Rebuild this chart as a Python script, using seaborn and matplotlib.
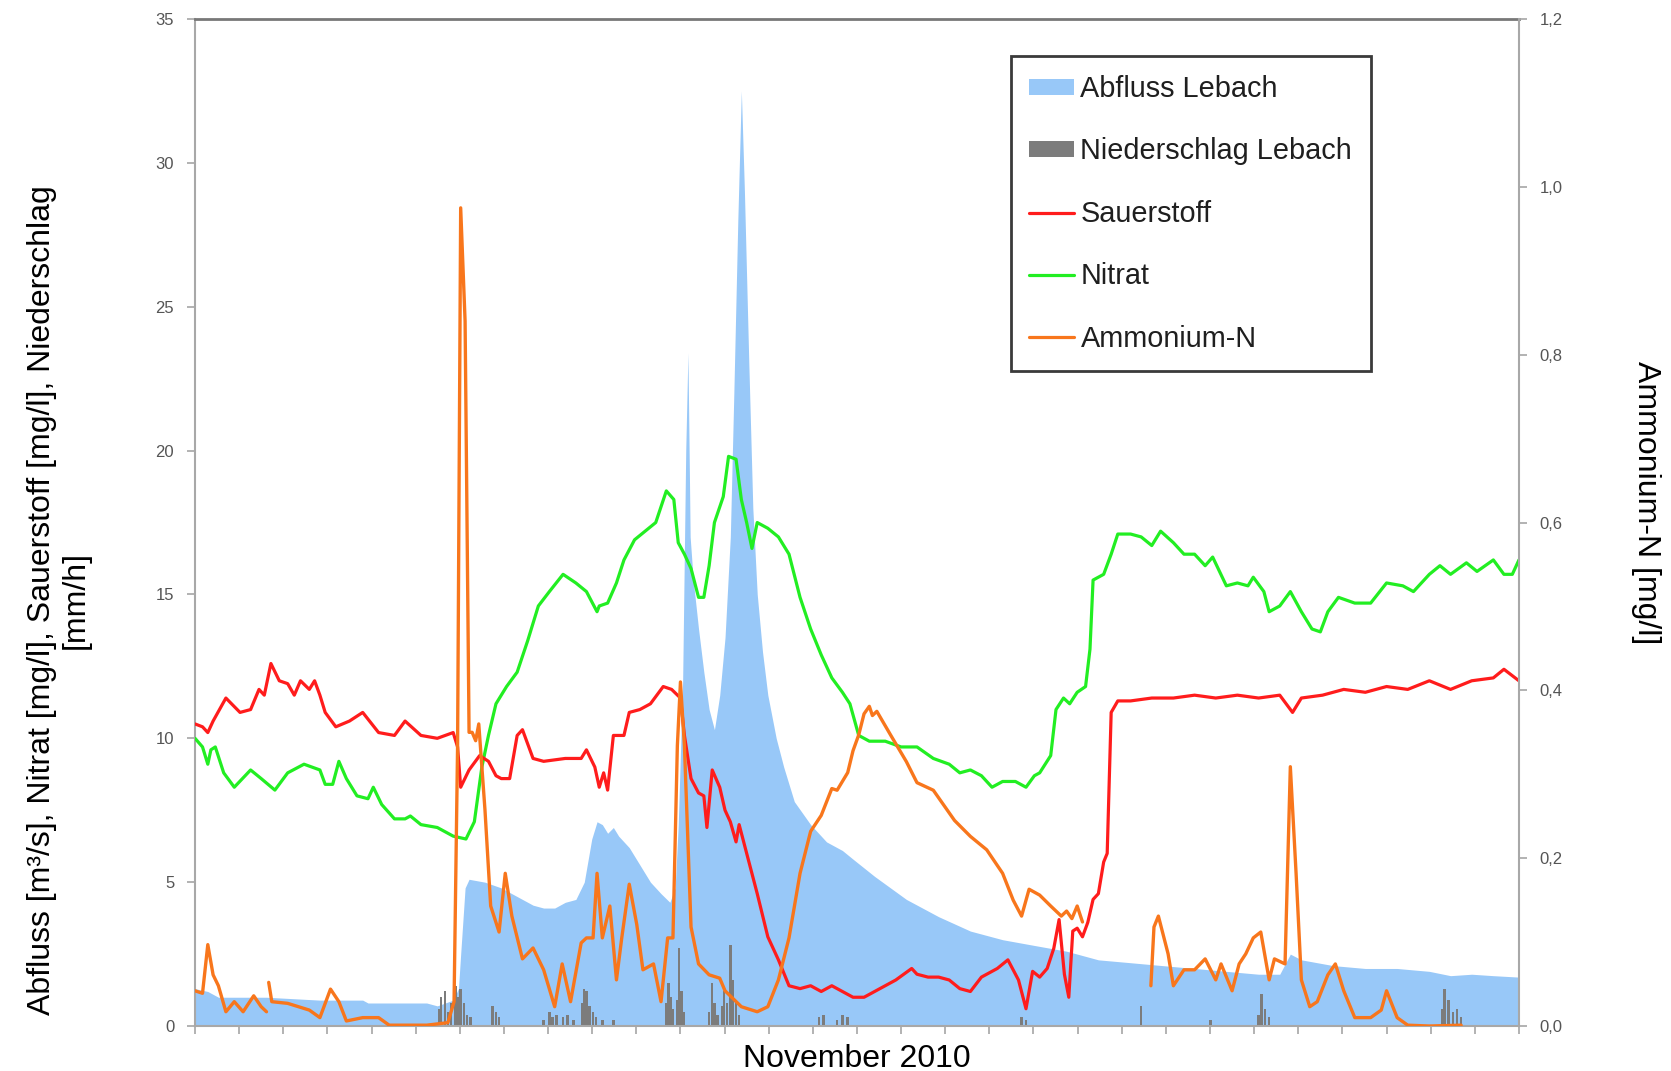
import numpy as np
import pandas as pd
import matplotlib
matplotlib.use("Agg")
import matplotlib.pyplot as plt
from matplotlib.patches import Patch
from matplotlib.lines import Line2D
from matplotlib.ticker import FuncFormatter, MultipleLocator
import seaborn as sns

# ---------------------------------------------------------------------------
# Messreihen November 2010 (Zeit in Tagen ab 1. November, 0 ... 30)
# ---------------------------------------------------------------------------

# Abfluss Lebach [m3/s]
abfluss_tag = [0.00, 0.29, 0.53, 1.62, 2.83, 3.80, 3.92, 5.25, 5.49, 5.85, 5.97, 6.02,
               6.12, 6.21, 6.57, 6.94, 7.18, 7.42, 7.66, 7.90, 8.15, 8.39, 8.63, 8.82,
               8.99, 9.11, 9.23, 9.35, 9.48, 9.60, 9.84, 10.08, 10.32, 10.56, 10.76, 10.88,
               10.95, 11.05, 11.12, 11.17, 11.22, 11.29, 11.41, 11.53, 11.65, 11.77, 11.89,
               12.01, 12.13, 12.21, 12.30, 12.38, 12.45, 12.55, 12.64, 12.74, 12.86, 12.98,
               13.17, 13.34, 13.58, 13.95, 14.31, 14.67, 14.91, 15.40, 16.12, 16.85, 17.57,
               18.30, 19.02, 19.75, 20.47, 21.20, 21.92, 22.65, 23.37, 24.10, 24.58, 24.82,
               25.07, 25.79, 26.52, 27.24, 27.97, 28.45, 28.93, 29.42, 30.00]
abfluss_m3s = [1.3, 1.2, 1.0, 1.0, 0.9, 0.9, 0.8, 0.8, 0.7, 0.9, 1.3, 2.5,
               4.8, 5.1, 5.0, 4.8, 4.6, 4.4, 4.2, 4.1, 4.1, 4.3, 4.4, 5.0,
               6.5, 7.1, 7.0, 6.7, 6.9, 6.6, 6.2, 5.6, 5.0, 4.6, 4.3, 4.8,
               7.0, 12.0, 20.0, 23.4, 17.0, 15.5, 13.8, 12.3, 11.0, 10.3, 11.5,
               13.5, 17.0, 22.0, 28.0, 32.5, 29.0, 23.0, 18.0, 15.0, 13.0, 11.5,
               10.0, 9.0, 7.8, 7.0, 6.4, 6.1, 5.8, 5.2, 4.4, 3.8, 3.3,
               3.0, 2.8, 2.6, 2.3, 2.2, 2.1, 2.0, 1.9, 1.8, 1.8, 2.5,
               2.3, 2.1, 2.0, 2.0, 1.9, 1.75, 1.8, 1.75, 1.7]

# Niederschlag Lebach [mm/h]
niederschlag_tag = [5.54, 5.58, 5.66, 5.73, 5.80, 5.90, 5.97, 6.02, 6.09, 6.16, 6.24,
                    6.74, 6.82, 6.89,
                    7.90, 8.03, 8.10, 8.19, 8.34, 8.44, 8.58,
                    8.77, 8.82, 8.87, 8.94, 9.02, 9.09, 9.23, 9.48,
                    10.68, 10.73, 10.78, 10.83, 10.93, 10.97, 11.02, 11.07,
                    11.65, 11.72, 11.77, 11.84, 11.94, 11.99, 12.06, 12.13, 12.18, 12.26, 12.33,
                    14.14, 14.24, 14.55, 14.67, 14.79,
                    18.73, 18.83,
                    21.44,
                    23.01, 24.10, 24.17, 24.24, 24.34,
                    28.26, 28.31, 28.40, 28.50, 28.60, 28.69]
niederschlag_mmh = [0.6, 1.0, 1.2, 0.5, 0.8, 1.4, 1.0, 1.3, 0.8, 0.4, 0.3,
                    0.7, 0.5, 0.3,
                    0.2, 0.5, 0.3, 0.4, 0.3, 0.4, 0.2,
                    0.8, 1.3, 1.2, 0.7, 0.5, 0.3, 0.2, 0.2,
                    0.8, 1.5, 1.0, 0.6, 0.9, 2.7, 1.2, 0.5,
                    0.5, 1.5, 0.8, 0.4, 0.7, 1.2, 0.8, 2.8, 1.6, 0.8, 0.4,
                    0.3, 0.4, 0.2, 0.4, 0.3,
                    0.3, 0.2,
                    0.7,
                    0.2, 0.4, 1.1, 0.6, 0.3,
                    0.6, 1.3, 0.9, 0.5, 0.6, 0.3]

# Sauerstoff [mg/l]
sauerstoff_tag = [0.00, 0.17, 0.29, 0.41, 0.70, 1.02, 1.26, 1.45, 1.57, 1.72, 1.91, 2.10,
                  2.25, 2.39, 2.59, 2.71, 2.83, 2.95, 3.19, 3.50, 3.80, 4.16, 4.52, 4.76,
                  5.12, 5.49, 5.85, 5.95, 6.02, 6.21, 6.45, 6.65, 6.82, 6.94, 7.13, 7.30,
                  7.42, 7.66, 7.90, 8.39, 8.75, 8.87, 9.06, 9.16, 9.26, 9.35, 9.48, 9.72,
                  9.84, 10.08, 10.32, 10.61, 10.80, 11.00, 11.09, 11.24, 11.41, 11.53, 11.60,
                  11.72, 11.89, 12.01, 12.13, 12.26, 12.33, 12.50, 12.74, 12.98, 13.22, 13.46,
                  13.71, 13.95, 14.19, 14.43, 14.67, 14.91, 15.16, 15.40, 15.64, 15.88, 16.24,
                  16.36, 16.61, 16.85, 17.09, 17.33, 17.57, 17.82, 18.18, 18.42, 18.66, 18.83,
                  18.98, 19.14, 19.31, 19.46, 19.58, 19.70, 19.80, 19.89, 19.99, 20.11, 20.23,
                  20.35, 20.47, 20.59, 20.67, 20.76, 20.91, 21.20, 21.68, 22.17, 22.65, 23.13,
                  23.62, 24.10, 24.58, 24.87, 25.07, 25.55, 26.03, 26.52, 27.00, 27.48, 27.97,
                  28.45, 28.93, 29.42, 29.66, 30.00]
sauerstoff_mgl = [10.5, 10.4, 10.2, 10.6, 11.4, 10.9, 11.0, 11.7, 11.5, 12.6, 12.0, 11.9,
                  11.5, 12.0, 11.7, 12.0, 11.5, 10.9, 10.4, 10.6, 10.9, 10.2, 10.1, 10.6,
                  10.1, 10.0, 10.2, 9.7, 8.3, 8.9, 9.4, 9.2, 8.7, 8.6, 8.6, 10.1,
                  10.3, 9.3, 9.2, 9.3, 9.3, 9.6, 9.0, 8.3, 8.8, 8.2, 10.1, 10.1,
                  10.9, 11.0, 11.2, 11.8, 11.7, 11.4, 10.1, 8.6, 8.1, 8.0, 6.9,
                  8.9, 8.3, 7.5, 7.1, 6.4, 7.0, 6.0, 4.6, 3.1, 2.3, 1.4,
                  1.3, 1.4, 1.2, 1.4, 1.2, 1.0, 1.0, 1.2, 1.4, 1.6, 2.0,
                  1.8, 1.7, 1.7, 1.6, 1.3, 1.2, 1.7, 2.0, 2.3, 1.6, 0.6,
                  1.9, 1.7, 2.0, 2.7, 3.7, 1.8, 1.0, 3.3, 3.4, 3.1, 3.6,
                  4.4, 4.6, 5.7, 6.0, 10.9, 11.3, 11.3, 11.4, 11.4, 11.5, 11.4,
                  11.5, 11.4, 11.5, 10.9, 11.4, 11.5, 11.7, 11.6, 11.8, 11.7, 12.0,
                  11.7, 12.0, 12.1, 12.4, 12.0]

# Nitrat [mg/l]
nitrat_tag = [0.00, 0.17, 0.29, 0.36, 0.46, 0.65, 0.89, 1.26, 1.50, 1.81, 2.10, 2.47,
              2.83, 2.95, 3.12, 3.26, 3.43, 3.67, 3.92, 4.04, 4.23, 4.52, 4.76, 4.88,
              5.12, 5.49, 5.85, 6.14, 6.33, 6.50, 6.65, 6.82, 7.06, 7.30, 7.54, 7.78,
              8.03, 8.34, 8.63, 8.87, 9.11, 9.16, 9.35, 9.55, 9.72, 9.96, 10.20, 10.44,
              10.68, 10.85, 10.95, 11.09, 11.24, 11.41, 11.53, 11.65, 11.77, 11.97, 12.09,
              12.26, 12.38, 12.50, 12.62, 12.74, 12.98, 13.22, 13.46, 13.71, 13.95, 14.19,
              14.43, 14.67, 14.84, 15.04, 15.28, 15.64, 16.00, 16.36, 16.73, 17.09, 17.33,
              17.57, 17.82, 18.06, 18.30, 18.59, 18.83, 19.02, 19.14, 19.39, 19.51, 19.68,
              19.82, 19.99, 20.18, 20.28, 20.35, 20.59, 20.76, 20.91, 21.20, 21.44, 21.68,
              21.88, 22.17, 22.41, 22.65, 22.89, 23.06, 23.37, 23.62, 23.86, 23.98, 24.22,
              24.34, 24.58, 24.82, 25.07, 25.31, 25.50, 25.67, 25.91, 26.28, 26.64, 27.00,
              27.37, 27.61, 27.97, 28.21, 28.45, 28.81, 29.05, 29.42, 29.66, 29.85, 30.00]
nitrat_mgl = [10.0, 9.7, 9.1, 9.6, 9.7, 8.8, 8.3, 8.9, 8.6, 8.2, 8.8, 9.1,
              8.9, 8.4, 8.4, 9.2, 8.6, 8.0, 7.9, 8.3, 7.7, 7.2, 7.2, 7.3,
              7.0, 6.9, 6.6, 6.5, 7.1, 9.0, 10.1, 11.2, 11.8, 12.3, 13.4, 14.6,
              15.1, 15.7, 15.4, 15.1, 14.4, 14.6, 14.7, 15.4, 16.2, 16.9, 17.2, 17.5,
              18.6, 18.3, 16.8, 16.4, 15.9, 14.9, 14.9, 16.0, 17.5, 18.4, 19.8,
              19.7, 18.3, 17.5, 16.6, 17.5, 17.3, 17.0, 16.4, 14.9, 13.8, 12.9,
              12.1, 11.6, 11.2, 10.1, 9.9, 9.9, 9.7, 9.7, 9.3, 9.1, 8.8,
              8.9, 8.7, 8.3, 8.5, 8.5, 8.3, 8.7, 8.8, 9.4, 11.0, 11.4,
              11.2, 11.6, 11.8, 13.1, 15.5, 15.7, 16.4, 17.1, 17.1, 17.0, 16.7,
              17.2, 16.8, 16.4, 16.4, 16.0, 16.3, 15.3, 15.4, 15.3, 15.6, 15.1,
              14.4, 14.6, 15.1, 14.4, 13.8, 13.7, 14.4, 14.9, 14.7, 14.7, 15.4,
              15.3, 15.1, 15.7, 16.0, 15.7, 16.1, 15.8, 16.2, 15.7, 15.7, 16.2]

# Ammonium-N [mg/l] (rechte Achse), drei zusammenhaengende Messabschnitte
ammonium_tag = [0.00, 0.17, 0.29, 0.41, 0.53, 0.70, 0.89, 1.09, 1.33, 1.50, 1.62,
                1.67, 1.74, 2.10, 2.59, 2.83, 3.07, 3.26, 3.43, 3.80, 4.16, 4.40, 5.25,
                5.73, 5.87, 5.95, 6.02, 6.12, 6.21, 6.28, 6.36, 6.43, 6.57, 6.70, 6.89,
                7.03, 7.18, 7.42, 7.66, 7.90, 8.15, 8.32, 8.51, 8.75, 8.87, 9.02, 9.11,
                9.23, 9.40, 9.55, 9.67, 9.84, 10.01, 10.15, 10.39, 10.56, 10.71, 10.83,
                10.93, 11.00, 11.09, 11.24, 11.41, 11.65, 11.89, 12.01, 12.38, 12.74, 12.98,
                13.22, 13.46, 13.71, 13.95, 14.19, 14.43, 14.55, 14.79, 14.91, 15.04, 15.16,
                15.28, 15.35, 15.45, 15.76, 16.12, 16.36, 16.73, 17.21, 17.57, 17.94, 18.30,
                18.54, 18.73, 18.90, 19.14, 19.39, 19.63, 19.75, 19.87, 19.99, 20.11,
                21.66, 21.73, 21.83, 22.05, 22.17, 22.41, 22.65, 22.89, 23.13, 23.25, 23.50,
                23.66, 23.81, 23.98, 24.15, 24.34, 24.46, 24.70, 24.82, 24.95, 25.07, 25.26,
                25.43, 25.67, 25.84, 26.03, 26.28, 26.64, 26.88, 27.00, 27.24, 27.48, 27.97,
                28.69]
ammonium_mgl = [0.042, 0.039, 0.097, 0.061, 0.048, 0.017, 0.029, 0.017, 0.036, 0.023, 0.017,
                0.052, 0.029, 0.027, 0.019, 0.010, 0.044, 0.029, 0.006, 0.010, 0.010, 0.001, 0.001,
                0.004, 0.029, 0.334, 0.975, 0.840, 0.350, 0.350, 0.340, 0.360, 0.258, 0.143, 0.112,
                0.182, 0.131, 0.080, 0.093, 0.067, 0.023, 0.074, 0.029, 0.099, 0.105, 0.105, 0.182,
                0.105, 0.143, 0.055, 0.105, 0.169, 0.121, 0.067, 0.074, 0.029, 0.105, 0.105,
                0.334, 0.410, 0.334, 0.118, 0.074, 0.061, 0.057, 0.042, 0.023, 0.017, 0.023,
                0.055, 0.105, 0.182, 0.232, 0.251, 0.283, 0.281, 0.302, 0.328, 0.347, 0.372,
                0.381, 0.370, 0.375, 0.347, 0.315, 0.290, 0.281, 0.245, 0.226, 0.210, 0.182,
                0.150, 0.131, 0.163, 0.156, 0.143, 0.131, 0.137, 0.128, 0.143, 0.124,
                0.048, 0.118, 0.131, 0.086, 0.048, 0.067, 0.067, 0.080, 0.055, 0.074, 0.042,
                0.074, 0.086, 0.105, 0.112, 0.055, 0.080, 0.074, 0.309, 0.182, 0.055, 0.023,
                0.029, 0.061, 0.074, 0.042, 0.010, 0.010, 0.019, 0.042, 0.010, 0.001, 0.000,
                0.001]
ammonium_abschnitt = [1] * 11 + [2] * 90 + [3] * 34

legend_labels = ["Abfluss Lebach", "Niederschlag Lebach", "Sauerstoff", "Nitrat", "Ammonium-N"]

# ---------------------------------------------------------------------------
farbe_abfluss = "#98c8f8"
farbe_regen = "#7c7c7c"
farbe_o2 = "#ff1c1c"
farbe_no3 = "#22ee22"
farbe_nh4 = "#f8761c"

sns.set_theme(style="white")
plt.rcParams["font.family"] = ["Liberation Sans", "DejaVu Sans"]

fig = plt.figure(figsize=(16.71, 10.71), dpi=100)
ax = fig.add_axes([0.1167, 0.042, 0.7923, 0.9402])
ax2 = ax.twinx()

# Abfluss als Flaeche, Niederschlag als schmale Balken
ax.fill_between(abfluss_tag, 0, abfluss_m3s, color=farbe_abfluss, lw=0, zorder=1)
ax.bar(niederschlag_tag, niederschlag_mmh, width=0.055, color=farbe_regen, lw=0, zorder=2)

df_o2 = pd.DataFrame({"tag": sauerstoff_tag, "wert": sauerstoff_mgl})
df_no3 = pd.DataFrame({"tag": nitrat_tag, "wert": nitrat_mgl})
df_nh4 = pd.DataFrame({"tag": ammonium_tag, "wert": ammonium_mgl, "abschnitt": ammonium_abschnitt})

sns.lineplot(data=df_no3, x="tag", y="wert", ax=ax, color=farbe_no3, lw=2.3, zorder=3)
sns.lineplot(data=df_o2, x="tag", y="wert", ax=ax, color=farbe_o2, lw=2.3, zorder=4)
sns.lineplot(data=df_nh4, x="tag", y="wert", units="abschnitt", estimator=None,
             ax=ax2, color=farbe_nh4, lw=2.4)

# Achsen
ax.set_xlim(0, 30)
ax.set_ylim(0, 35)
ax2.set_ylim(0, 1.2)
ax.yaxis.set_major_locator(MultipleLocator(5))
ax2.yaxis.set_major_locator(MultipleLocator(0.2))
ax2.yaxis.set_major_formatter(FuncFormatter(lambda v, p: f"{v:.1f}".replace(".", ",")))
ax.xaxis.set_major_locator(MultipleLocator(1))

tick_grau = "#a6a6a6"
text_grau = "#555555"
ax.tick_params(axis="x", direction="out", length=6, width=1.2, color=tick_grau,
               labelbottom=False, bottom=True)
ax.tick_params(axis="y", direction="out", length=6, width=1.2, color=tick_grau,
               pad=9, labelsize=12, labelcolor=text_grau, left=True)
ax2.tick_params(axis="y", direction="out", length=6, width=1.2, color=tick_grau,
                pad=9, labelsize=12, labelcolor=text_grau, right=True)

for name, sp in ax.spines.items():
    sp.set_visible(name != "right")
    sp.set_color("#a8a8a8")
    sp.set_linewidth(1.5)
ax.spines["top"].set_color("#787878")
ax.spines["top"].set_linewidth(2.0)
for name, sp in ax2.spines.items():
    sp.set_visible(name == "right")
ax2.spines["right"].set_color("#a8a8a8")
ax2.spines["right"].set_linewidth(1.5)

ax.set_xlabel("November 2010", fontsize=23, color="black", labelpad=7)
ax.set_ylabel("Abfluss [m³/s], Nitrat [mg/l], Sauerstoff [mg/l], Niederschlag\n[mm/h]",
              fontsize=23, color="black", linespacing=1.15)
ax.yaxis.set_label_coords(-0.079, 0.423)
ax2.set_ylabel("Ammonium-N [mg/l]", fontsize=23, color="black", rotation=270, va="bottom")
ax2.yaxis.set_label_coords(1.085, 0.52)

# Legende
handles = [Patch(facecolor=farbe_abfluss, edgecolor="none"),
           Patch(facecolor=farbe_regen, edgecolor="none"),
           Line2D([], [], color=farbe_o2, lw=2.3),
           Line2D([], [], color=farbe_no3, lw=2.3),
           Line2D([], [], color=farbe_nh4, lw=2.3)]
leg = ax2.legend(handles, legend_labels, loc="upper left", bbox_to_anchor=(0.616, 0.963),
                 fontsize=20.8, frameon=True, fancybox=False, framealpha=1,
                 edgecolor="#3a3a3a", borderpad=0.65, labelspacing=1.19,
                 handlelength=1.55, handleheight=0.5, handletextpad=0.22, borderaxespad=0)
leg.get_frame().set_linewidth(2.0)
for t in leg.get_texts():
    t.set_color("#1f1f1f")

fig.savefig("out.png", dpi=100)
